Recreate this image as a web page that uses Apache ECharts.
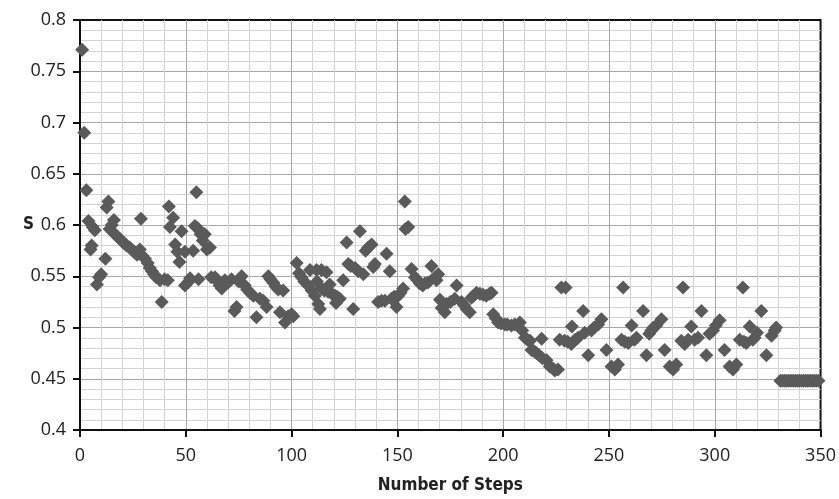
<!DOCTYPE html>
<html>
<head>
<meta charset="utf-8">
<script src="https://cdn.jsdelivr.net/npm/echarts@6/dist/echarts.min.js"></script>
<style>
html,body{margin:0;padding:0;background:#fff;}
#chart{width:839px;height:499px;}
</style>
</head>
<body>
<div id="chart"></div>
<script>
// Number of steps (x) and S values (y)
const steps = [
  1, 2, 3, 4, 5, 5.5, 6, 7, 8, 9, 10, 12, 12.6, 13.4, 14, 15, 16, 16.5, 17.5, 19,
  20, 21, 22, 23.5, 25, 26, 27, 28.3, 28.8, 29.5, 30.7, 32, 33, 34, 35, 36, 37.8, 38.6, 40, 41.5,
  42, 42.5, 44, 45, 46, 47, 48, 49.6, 49.6, 51, 52, 53.5, 54.3, 55, 55.5, 56, 57, 58, 59, 60,
  61.4, 62, 63.8, 65, 66, 67, 68.5, 70, 71.6, 73, 74, 75, 76.4, 77.9, 79, 80.3, 81.9, 83.4, 85, 86.6,
  88.2, 89, 90, 91.3, 92.5, 93.7, 94.5, 96, 96.9, 98.4, 100, 100.8, 102.4, 103.5, 104.7, 106, 107.8, 108.7, 109.5, 111,
  111.8, 112, 112.6, 113.4, 114.1, 114.2, 115.5, 116.5, 117.3, 118, 119, 120.5, 121, 121.5, 122.8, 124.4, 126, 126.8, 128, 129.1,
  130, 131.5, 132.3, 133.9, 135, 136.2, 137.8, 138.6, 139.4, 140.9, 142.5, 144.1, 144.9, 146.4, 147.2, 148.5, 149.6, 150.4, 151.5, 152.7,
  153.5, 153.8, 155.1, 156.7, 158.3, 159.5, 160.6, 162, 163, 164.5, 166.1, 167.7, 168.5, 169.3, 170.1, 170.9, 172.4, 173.2, 175, 177.1,
  178, 180.3, 181.5, 182.7, 184.2, 185, 186, 187.4, 189, 190.5, 192, 193.5, 194.5, 195.3, 196.5, 197.6, 199, 200.8, 202, 203.9,
  205.5, 207.9, 209, 210.3, 211.5, 212.7, 213.4, 214.5, 215.8, 217, 218.2, 218.5, 220.5, 222, 223.5, 224.4, 225.9, 226.7, 227.5,
  229, 229.5, 230.5, 232.2, 232.5, 234, 235.4, 237.8, 238.5, 240.2, 241.7, 243, 244.9, 246.4, 248.8, 251.2, 252.8, 254.3,
  255.9, 256.7, 257.5, 259.1, 260.7, 262, 263, 266.1, 267.7, 269, 270, 271, 272.4, 274.8, 276.3, 278.7, 280.3, 281.8,
  284.2, 285, 285.8, 287.4, 288.9, 290.5, 292.1, 293.7, 296, 297.5, 299.2, 300.5, 302.3, 304.6, 307, 308.6, 310.2,
  311.8, 313.3, 313.8, 314.9, 316.5, 318, 318.8, 320, 322, 324.4, 326.8, 328.3, 329,
  331, 332, 333, 334, 335, 336, 337, 338, 339, 340, 341, 342, 343, 344, 345, 346, 347, 348, 349
];
const sValues = [
  0.771, 0.690, 0.634, 0.604, 0.576, 0.580, 0.598, 0.595, 0.542, 0.549, 0.552, 0.567, 0.617, 0.623, 0.596, 0.600, 0.605, 0.591, 0.589, 0.586,
  0.584, 0.582, 0.580, 0.578, 0.575, 0.573, 0.571, 0.576, 0.606, 0.570, 0.567, 0.563, 0.558, 0.555, 0.552, 0.549, 0.546, 0.525, 0.547, 0.546,
  0.618, 0.598, 0.607, 0.581, 0.574, 0.564, 0.594, 0.574, 0.541, 0.544, 0.548, 0.575, 0.599, 0.632, 0.597, 0.547, 0.591, 0.585, 0.591, 0.576,
  0.578, 0.549, 0.549, 0.545, 0.541, 0.538, 0.546, 0.544, 0.547, 0.516, 0.520, 0.545, 0.550, 0.541, 0.537, 0.534, 0.531, 0.510, 0.528, 0.526,
  0.520, 0.550, 0.547, 0.544, 0.540, 0.537, 0.515, 0.536, 0.505, 0.511, 0.513, 0.511, 0.563, 0.553, 0.549, 0.545, 0.541, 0.556, 0.536, 0.531,
  0.556, 0.545, 0.523, 0.518, 0.556, 0.538, 0.536, 0.554, 0.535, 0.542, 0.533, 0.531, 0.524, 0.530, 0.528, 0.546, 0.583, 0.562, 0.560, 0.518,
  0.558, 0.555, 0.594, 0.552, 0.575, 0.578, 0.581, 0.559, 0.562, 0.525, 0.526, 0.526, 0.572, 0.555, 0.528, 0.530, 0.520, 0.531, 0.534, 0.538,
  0.623, 0.596, 0.598, 0.557, 0.549, 0.546, 0.543, 0.541, 0.543, 0.544, 0.560, 0.549, 0.546, 0.552, 0.527, 0.519, 0.515, 0.523, 0.525, 0.528,
  0.541, 0.525, 0.522, 0.518, 0.515, 0.529, 0.531, 0.534, 0.533, 0.532, 0.531, 0.533, 0.534, 0.513, 0.509, 0.505, 0.504, 0.503, 0.503, 0.502,
  0.503, 0.505, 0.497, 0.490, 0.488, 0.487, 0.478, 0.477, 0.475, 0.473, 0.489, 0.470, 0.468, 0.462, 0.460, 0.458, 0.459, 0.488, 0.539,
  0.487, 0.539, 0.486, 0.484, 0.501, 0.488, 0.490, 0.516, 0.495, 0.473, 0.497, 0.500, 0.503, 0.508, 0.478, 0.462, 0.459, 0.464,
  0.488, 0.539, 0.486, 0.485, 0.502, 0.488, 0.490, 0.516, 0.473, 0.494, 0.497, 0.500, 0.502, 0.508, 0.478, 0.462, 0.459, 0.464,
  0.487, 0.539, 0.484, 0.488, 0.501, 0.488, 0.490, 0.516, 0.473, 0.494, 0.497, 0.502, 0.507, 0.478, 0.462, 0.459, 0.464,
  0.488, 0.539, 0.486, 0.485, 0.501, 0.488, 0.490, 0.495, 0.516, 0.473, 0.492, 0.497, 0.500,
  0.448, 0.448, 0.448, 0.448, 0.448, 0.448, 0.448, 0.448, 0.448, 0.448, 0.448, 0.448, 0.448, 0.448, 0.448, 0.448, 0.448, 0.448, 0.448
];
const xName = 'Number of Steps';
const yName = 'S';

const points = steps.map((x, i) => [x, sValues[i]]);
const font = '"Open Sans", "Noto Sans", sans-serif';
const titleFont = '"Liberation Sans Narrow", "DejaVu Sans Condensed", "Open Sans", sans-serif';

const chart = echarts.init(document.getElementById('chart'), null, {renderer: 'canvas'});
chart.setOption({
  animation: false,
  backgroundColor: '#ffffff',
  grid: {
    left: 80, right: 18, top: 20, bottom: 65,
    show: true, borderColor: '#111', borderWidth: 2, backgroundColor: 'transparent'
  },
  xAxis: {
    type: 'value', min: 0, max: 350, interval: 50,
    name: xName, nameLocation: 'middle', nameGap: 47, nameMoveOverlap: false,
    nameTextStyle: {fontFamily: titleFont, fontWeight: 'bold', fontSize: 17, color: '#222', verticalAlign: 'top'},
    axisLine: {show: true, onZero: false, lineStyle: {color: '#111', width: 2}},
    axisTick: {show: true, inside: false, length: 7, lineStyle: {color: '#111', width: 2}},
    axisLabel: {fontFamily: font, fontSize: 18, color: '#222', margin: 17},
    splitLine: {show: true, showMinLine: false, showMaxLine: false, lineStyle: {color: '#a8a8a8', width: 1}},
    minorTick: {show: false, splitNumber: 5},
    minorSplitLine: {show: true, lineStyle: {color: '#d4d4d4', width: 1}}
  },
  yAxis: {
    type: 'value', min: 0.4, max: 0.8, interval: 0.05,
    name: yName, nameLocation: 'middle', nameGap: 46, nameRotate: 0, nameMoveOverlap: false,
    nameTextStyle: {fontFamily: titleFont, fontWeight: 'bold', fontSize: 17, color: '#222'},
    axisLine: {show: true, onZero: false, lineStyle: {color: '#111', width: 2}},
    axisTick: {show: true, inside: false, length: 7, lineStyle: {color: '#111', width: 2}},
    axisLabel: {fontFamily: font, fontSize: 18, color: '#222', margin: 14},
    splitLine: {show: true, showMinLine: false, showMaxLine: false, lineStyle: {color: '#a8a8a8', width: 1}},
    minorTick: {show: false, splitNumber: 5},
    minorSplitLine: {show: true, lineStyle: {color: '#d4d4d4', width: 1}}
  },
  series: [{
    type: 'scatter',
    data: points,
    symbol: 'diamond',
    symbolSize: 14,
    itemStyle: {color: '#5a5a5a', opacity: 1},
    z: 5
  }]
});
</script>
</body>
</html>
